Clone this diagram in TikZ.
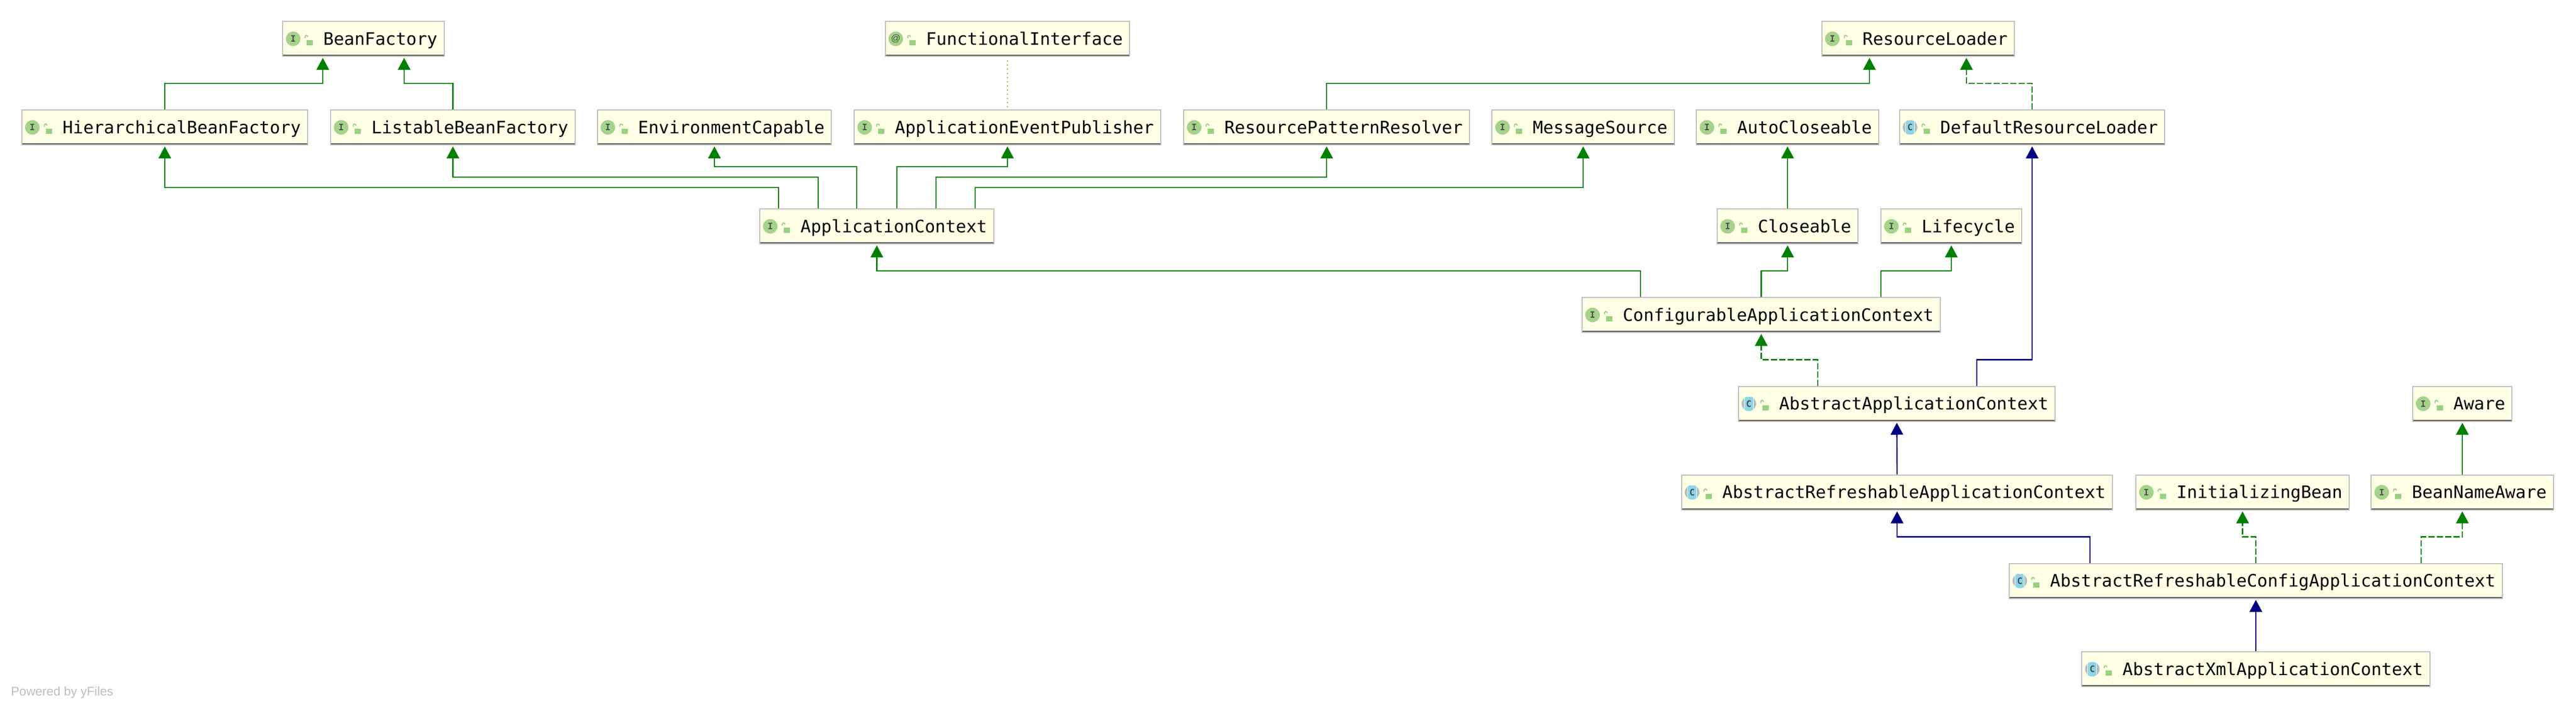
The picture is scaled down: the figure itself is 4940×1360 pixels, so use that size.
\documentclass[tikz,border=0pt]{standalone}
\usepackage{fontspec}
\setmainfont{Liberation Sans}
\setmonofont{DejaVu Sans Mono}
\usetikzlibrary{arrows.meta}
\definecolor{boxfill}{HTML}{FFFFE6}
\definecolor{boxgray}{HTML}{BDBDBD}
\definecolor{boxdark}{HTML}{595959}
\definecolor{icongreen}{HTML}{A5D38B}
\definecolor{iconblue}{HTML}{8AD5E8}
\definecolor{icongray}{HTML}{B4BEC2}
\definecolor{lockgreen}{HTML}{98D180}
\definecolor{lettergray}{HTML}{4A524A}
\definecolor{extgreen}{HTML}{008000}
\definecolor{supblue}{HTML}{000080}
\definecolor{depolive}{HTML}{A8A820}
\begin{document}
\begin{tikzpicture}[x=1pt,y=-1pt]
	\tikzstyle{typebox} = [draw=boxgray,fill=boxfill,line width=2pt,font=\ttfamily\fontsize{33}{40}\selectfont,
		inner sep=0pt,outer sep=0pt,text height=45pt,text depth=22pt,
		execute at begin node={\hspace*{78pt}},execute at end node={\kern13pt},
		path picture={
			\fill[boxdark] ([yshift=1pt]path picture bounding box.south west) rectangle ([yshift=2.6pt]path picture bounding box.south east);
			\fill[lockgreen] ([xshift=46pt,yshift=-2.5pt]path picture bounding box.west) rectangle ++(12,10);
			\draw[lockgreen,line width=2pt,rounded corners=2.5pt] ([xshift=43pt,yshift=1.5pt]path picture bounding box.west) -- ++(0,-5) -- ++(5,0) -- ++(0,3);
		}]
	\tikzstyle{icon} = [circle,minimum size=28pt,inner sep=0pt,outer sep=0pt,text=lettergray,font=\ttfamily\bfseries\fontsize{17}{17}\selectfont]
	\tikzstyle{iconi} = [icon,fill=icongreen]
	\tikzstyle{iconc} = [icon,fill=icongray,path picture={
			\fill[iconblue,draw=boxfill,line width=1pt] ([xshift=-8.5pt]path picture bounding box.north) rectangle ([xshift=8.5pt]path picture bounding box.south);
		}]
	\tikzstyle{icona} = [icon,fill=icongreen,font=\rmfamily\fontsize{18}{18}\selectfont]
	\tikzstyle{ext} = [draw=extgreen,line width=2.4pt,shorten >=3pt,shorten <=1pt,-{Triangle[length=23pt,width=24pt,fill=extgreen]}]
	\tikzstyle{impl} = [ext,dash pattern=on 12pt off 4pt]
	\tikzstyle{sup} = [ext,draw=supblue,-{Triangle[length=23pt,width=24pt,fill=supblue]}]
	\tikzstyle{anno} = [draw=depolive,line width=1.6pt,dash pattern=on 2pt off 6pt,shorten <=8pt,shorten >=3pt]

	\useasboundingbox (0,0) rectangle (4940,1360);

	\node[typebox] (bf) at (697,74.5) {BeanFactory};
	\node[typebox] (fi) at (1932,74.5) {FunctionalInterface};
	\node[typebox] (rl) at (3678.5,74.5) {ResourceLoader};

	\node[typebox] (hbf) at (316,244.5) {HierarchicalBeanFactory};
	\node[typebox] (lbf) at (868.5,244.5) {ListableBeanFactory};
	\node[typebox] (ec) at (1370,244.5) {EnvironmentCapable};
	\node[typebox] (aep) at (1932,244.5) {ApplicationEventPublisher};
	\node[typebox] (rpr) at (2544,244.5) {ResourcePatternResolver};
	\node[typebox] (ms) at (3036,244.5) {MessageSource};
	\node[typebox] (autoc) at (3428,244.5) {AutoCloseable};
	\node[typebox] (drl) at (3897,244.5) {DefaultResourceLoader};

	\node[typebox] (ac) at (1681.5,434.5) {ApplicationContext};
	\node[typebox] (cl) at (3428,434.5) {Closeable};
	\node[typebox] (lc) at (3742,434.5) {Lifecycle};
	\node[typebox] (cac) at (3377.5,604.5) {ConfigurableApplicationContext};

	\node[typebox] (aac) at (3637.5,775) {AbstractApplicationContext};
	\node[typebox] (aw) at (4722,775) {Aware};
	\node[typebox] (arac) at (3638,945) {AbstractRefreshableApplicationContext};
	\node[typebox] (ib) at (4300.5,945) {InitializingBean};
	\node[typebox] (bna) at (4722,945) {BeanNameAware};
	\node[typebox] (arcac) at (4326,1115) {AbstractRefreshableConfigApplicationContext};
	\node[typebox] (axac) at (4326,1284.5) {AbstractXmlApplicationContext};

	\foreach \n in {bf,rl,hbf,lbf,ec,aep,rpr,ms,autoc,ac,cl,lc,cac,aw,ib,bna}
		\node[iconi] (\n-ic) at ([xshift=20pt]\n.west) {I};
	\foreach \n in {drl,aac,arac,arcac,axac}
		\node[iconc] (\n-ic) at ([xshift=20pt]\n.west) {C};
	\node[icona] (fi-ic) at ([xshift=20pt]fi.west) {@};

	\draw[ext] (hbf.north) -- ++(0,-51) -| ([xshift=-78pt]bf.south);
	\draw[ext] (lbf.north) -- ++(0,-51) -| ([xshift=78pt]bf.south);
	\draw[ext] ([xshift=-188.5pt]ac.north) -- ++(0,-41) -| (hbf.south);
	\draw[ext] ([xshift=-112.5pt]ac.north) -- ++(0,-61) -| (lbf.south);
	\draw[ext] ([xshift=-38.5pt]ac.north) -- ++(0,-81) -| (ec.south);
	\draw[ext] ([xshift=38.5pt]ac.north) -- ++(0,-81) -| (aep.south);
	\draw[ext] ([xshift=113.5pt]ac.north) -- ++(0,-61) -| (rpr.south);
	\draw[ext] ([xshift=188.5pt]ac.north) -- ++(0,-41) -| (ms.south);
	\draw[ext] (rpr.north) -- ++(0,-51) -| ([xshift=-93.5pt]rl.south);
	\draw[impl] (drl.north) -- ++(0,-51) -| ([xshift=92.5pt]rl.south);
	\draw[anno] (fi.south) -- (aep.north);
	\draw[ext] (cl.north) -- (autoc.south);
	\draw[ext] ([xshift=-231.5pt]cac.north) -- ++(0,-51) -| (ac.south);
	\draw[ext] (cac.north) -- ++(0,-51) -| (cl.south);
	\draw[ext] ([xshift=229.5pt]cac.north) -- ++(0,-51) -| (lc.south);
	\draw[impl] ([xshift=-151.5pt]aac.north) -- ++(0,-51) -| (cac.south);
	\draw[sup] ([xshift=153.5pt]aac.north) -- ++(0,-51) -| (drl.south);
	\draw[sup] (arac.north) -- (aac.south);
	\draw[ext] (bna.north) -- (aw.south);
	\draw[sup] ([xshift=-318pt]arcac.north) -- ++(0,-51) -| (arac.south);
	\draw[impl] (arcac.north) -- ++(0,-51) -| (ib.south);
	\draw[impl] ([xshift=317pt]arcac.north) -- ++(0,-51) -| (bna.south);
	\draw[sup] (axac.north) -- (arcac.south);

	\node[anchor=base west,inner sep=0pt,text=boxgray,font=\fontsize{24}{24}\selectfont] (yf) at (21,1335) {Powered by yFiles};
\end{tikzpicture}
\end{document}
